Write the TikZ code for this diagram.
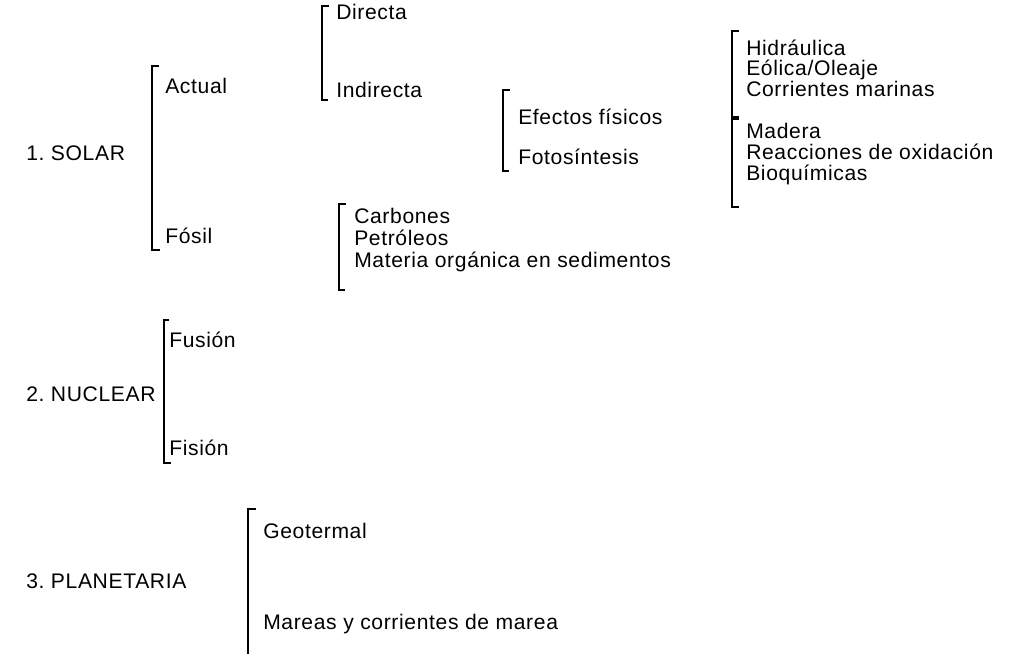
\documentclass[tikz,border=0pt]{standalone}
\usepackage{fontspec}
\setmainfont[LetterSpace=3]{Liberation Sans}

\begin{document}
\begin{tikzpicture}[x=0.025cm, y=-0.025cm,
	item/.style={anchor=west, inner sep=0pt, yshift=-0.05cm, text height=10.5pt, text depth=2.5pt, font=\fontsize{15}{18}\selectfont},
	brk/.style={line width=1.5pt, line cap=butt}]
	\useasboundingbox (0, 0) rectangle (1011, 654);
	% Headings:
	\node[item] (solar) at (26, 153) {1.\ SOLAR};
	\node[item] (nuclear) at (26, 394) {2.\ NUCLEAR};
	\node[item] (planet) at (26, 581) {3.\ PLANETARIA};
	% Solar, first level:
	\node[item] (actual) at (165, 86) {Actual};
	\node[item] (fosil) at (165, 236) {Fósil};
	\draw[brk] (159, 66) -- (152, 66) -- (152, 250) -- (160, 250);
	% Directa / Indirecta:
	\node[item] (directa) at (336, 12) {Directa};
	\node[item] (indirecta) at (336, 90) {Indirecta};
	\draw[brk] (329, 6) -- (322, 6) -- (322, 100) -- (328, 100);
	% Efectos / Fotosintesis:
	\node[item] (efectos) at (518, 117) {Efectos físicos};
	\node[item] (foto) at (518, 157) {Fotosíntesis};
	\draw[brk] (510, 90) -- (503, 90) -- (503, 171) -- (509, 171);
	% Physical effects:
	\node[item] (hidra) at (746, 48) {Hidráulica};
	\node[item] (eolica) at (746, 68) {Eólica/Oleaje};
	\node[item] (corr) at (746, 89) {Corrientes marinas};
	\draw[brk] (739, 31) -- (732, 31) -- (732, 117) -- (739, 117);
	% Photosynthesis:
	\node[item] (madera) at (746, 131) {Madera};
	\node[item] (reacc) at (746, 152) {Reacciones de oxidación};
	\node[item] (bioq) at (746, 173) {Bioquímicas};
	\draw[brk] (739, 119) -- (732, 119) -- (732, 207) -- (739, 207);
	% Fossil:
	\node[item] (carb) at (354, 216) {Carbones};
	\node[item] (petro) at (354, 238) {Petróleos};
	\node[item] (materia) at (354, 260) {Materia orgánica en sedimentos};
	\draw[brk] (346, 204) -- (339, 204) -- (339, 290) -- (345, 290);
	% Nuclear:
	\node[item] (fusion) at (169, 340) {Fusión};
	\node[item] (fision) at (169, 448) {Fisión};
	\draw[brk] (169, 320) -- (164, 320) -- (164, 463) -- (171, 463);
	% Planetary:
	\node[item] (geo) at (263, 531) {Geotermal};
	\node[item] (mareas) at (263, 622) {Mareas y corrientes de marea};
	\draw[brk] (256, 509) -- (248, 509) -- (248, 654);
\end{tikzpicture}
\end{document}
